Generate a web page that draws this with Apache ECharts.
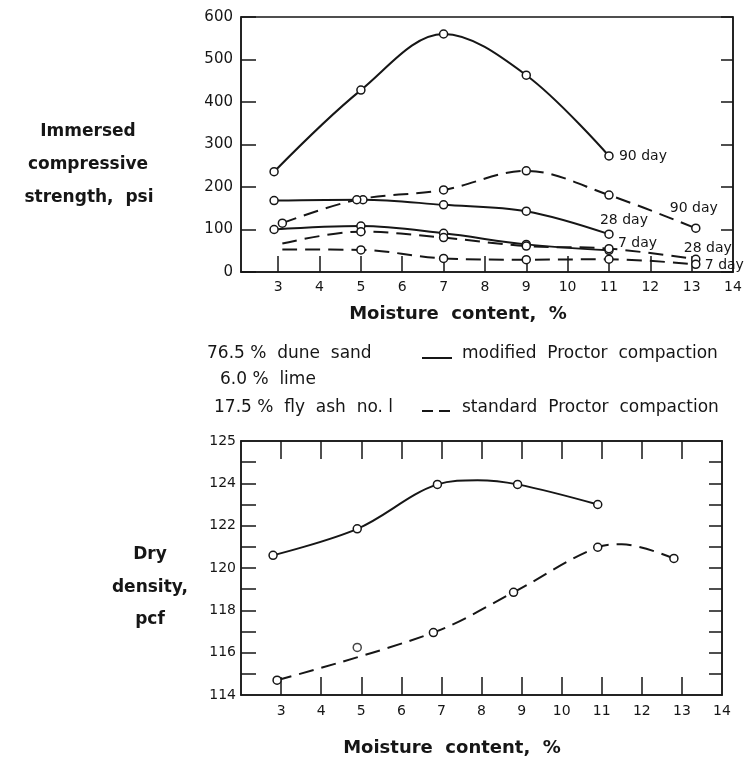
<!DOCTYPE html>
<html>
<head>
<meta charset="utf-8">
<script src="https://cdn.jsdelivr.net/npm/echarts@6/dist/echarts.min.js"></script>
<style>
  html, body { margin: 0; padding: 0; background: #fff; }
  #main { width: 751px; height: 761px; }
</style>
</head>
<body>
<div id="main"></div>
<script>
// compressive strength, psi  [moisture %, psi]
var mod90 = [[2.9, 236], [5, 428], [7, 560], [9, 463], [11, 273]];
var mod28 = [[2.9, 168], [5.05, 170], [7, 158], [9, 143], [11, 89]];
var mod7 = [[2.9, 100], [5, 108], [7, 91], [9, 65], [11, 51]];
var std90 = [[3.1, 115], [4.9, 170], [7, 193], [9, 238], [11, 181], [13.1, 103]];
var std28 = [[3.1, 67], [5, 95], [7, 81], [9, 61], [11, 55], [13.1, 30]];
var std7 = [[3.1, 53], [5, 52], [7, 32], [9, 29], [11, 30], [13.1, 18]];

// dry density, pcf
var densMod = [[2.8, 120.6], [4.9, 121.85], [6.9, 123.95], [8.9, 123.95], [10.9, 123.0]];
var densModCrest = [[7.9, 124.15]];          // top of the drawn curve, no marker
var densStd = [[2.9, 114.7], [6.8, 116.95], [8.8, 118.85], [10.9, 120.98], [12.8, 120.45]];
var densStdCrest = [[11.5, 121.12]];         // top of the drawn curve, no marker
var densStray = [[4.9, 116.25]];

// axis labels
var moistureTicks = [3, 4, 5, 6, 7, 8, 9, 10, 11, 12, 13];
var moistureLabels = [3, 4, 5, 6, 7, 8, 9, 10, 11, 12, 13, 14];
var densityLabelValues = [114, 116, 118, 120, 122, 124, 126];
var densityLabelText = ['114', '116', '118', '120', '122', '124', '125'];
var densityTicks = [115, 116, 117, 118, 119, 120, 121, 122, 123, 124, 125];

var FONT = 'DejaVu Sans';
var INK = '#161616';
var DASH = [15, 8];

var myChart = echarts.init(document.getElementById('main'), null, { renderer: 'canvas' });

// merge measured points with unmarked curve points, sorted by moisture
function withCrest(points, crest) {
    var all = points.map(function (p) { return { value: p }; })
        .concat(crest.map(function (p) { return { value: p, symbol: 'none' }; }));
    all.sort(function (a, b) { return a.value[0] - b.value[0]; });
    return all;
}

function strengthSeries(name, data, dashed, noFirstMarker, labelOffset) {
    var pts = data.map(function (p, i) {
        if (noFirstMarker && i === 0) {
            return { value: p, symbol: 'none' };
        }
        return p;
    });
    return {
        name: name,
        type: 'line',
        xAxisIndex: 0,
        yAxisIndex: 0,
        data: pts,
        smooth: 0.35,
        symbol: 'circle',
        symbolSize: 8,
        itemStyle: { color: '#fff', borderColor: INK, borderWidth: 1.5 },
        lineStyle: { color: INK, width: 2, type: dashed ? DASH : 'solid' },
        endLabel: {
            show: true,
            formatter: name,
            offset: labelOffset,
            color: INK,
            fontFamily: FONT,
            fontSize: 14
        },
        z: 3
    };
}

function titleText(str, x, y, size, bold) {
    return {
        type: 'text', x: x, y: y,
        style: {
            text: str, font: (bold ? 'bold ' : '') + size + 'px ' + FONT,
            fill: INK, align: bold ? 'center' : 'left', verticalAlign: 'middle'
        }
    };
}

var option = {
    animation: false,
    backgroundColor: '#fff',
    textStyle: { fontFamily: FONT, color: INK },
    grid: [
        { left: 241, top: 17, width: 492, height: 255, show: true, borderColor: INK, borderWidth: 1.5 },
        { left: 241, top: 441, width: 481, height: 254, show: true, borderColor: INK, borderWidth: 1.5 }
    ],
    xAxis: [
        {
            type: 'value', gridIndex: 0, min: 2.1, max: 14,
            axisLine: { show: true, lineStyle: { color: INK, width: 1.5 } },
            axisTick: { show: true, inside: true, length: 16, customValues: moistureTicks, lineStyle: { color: INK, width: 1.5 } },
            axisLabel: { customValues: moistureLabels, showMaxLabel: true, color: INK, fontSize: 14, margin: 8 },
            splitLine: { show: false }
        },
        {
            type: 'value', gridIndex: 1, min: 2, max: 14,
            axisLine: { show: true, lineStyle: { color: INK, width: 1.5 } },
            axisTick: { show: true, inside: true, length: 18, customValues: moistureTicks, lineStyle: { color: INK, width: 1.5 } },
            axisLabel: { customValues: moistureLabels, showMaxLabel: true, color: INK, fontSize: 14, margin: 9 },
            splitLine: { show: false }
        },
        {
            type: 'value', gridIndex: 1, min: 2, max: 14, position: 'top',
            axisLine: { show: true, lineStyle: { color: INK, width: 1.5 } },
            axisTick: { show: true, inside: true, length: 18, customValues: moistureTicks, lineStyle: { color: INK, width: 1.5 } },
            axisLabel: { show: false },
            splitLine: { show: false }
        }
    ],
    yAxis: [
        {
            type: 'value', gridIndex: 0, min: 0, max: 600, interval: 100,
            axisLine: { show: true, lineStyle: { color: INK, width: 1.5 } },
            axisTick: { show: true, inside: true, length: 15, lineStyle: { color: INK, width: 1.5 } },
            axisLabel: { color: INK, fontSize: 15, margin: 8 },
            splitLine: { show: false }
        },
        {
            type: 'value', gridIndex: 0, min: 0, max: 600, interval: 100, position: 'right',
            axisLine: { show: true, lineStyle: { color: INK, width: 1.5 } },
            axisTick: { show: true, inside: true, length: 12, lineStyle: { color: INK, width: 1.5 } },
            axisLabel: { show: false },
            splitLine: { show: false }
        },
        {
            type: 'value', gridIndex: 1, min: 114, max: 126,
            axisLine: { show: true, lineStyle: { color: INK, width: 1.5 } },
            axisTick: { show: true, inside: true, length: 15, customValues: densityTicks, lineStyle: { color: INK, width: 1.5 } },
            axisLabel: {
                customValues: densityLabelValues, showMaxLabel: true, showMinLabel: true,
                color: INK, fontSize: 14, margin: 5,
                formatter: function (v) {
                    var i = densityLabelValues.indexOf(v);
                    return i < 0 ? '' : densityLabelText[i];
                }
            },
            splitLine: { show: false }
        },
        {
            type: 'value', gridIndex: 1, min: 114, max: 126, position: 'right',
            axisLine: { show: true, lineStyle: { color: INK, width: 1.5 } },
            axisTick: { show: true, inside: true, length: 13, customValues: densityTicks, lineStyle: { color: INK, width: 1.5 } },
            axisLabel: { show: false },
            splitLine: { show: false }
        }
    ],
    series: [
        strengthSeries('90 day', mod90, false, false, [2, 0]),
        strengthSeries('28 day', mod28, false, false, [-17, -14]),
        strengthSeries('7 day', mod7, false, false, [1, -7]),
        strengthSeries('90 day', std90, true, false, [-34, -20]),
        strengthSeries('28 day', std28, true, true, [-20, -11]),
        strengthSeries('7 day', std7, true, true, [1, 1]),
        {
            type: 'line', xAxisIndex: 1, yAxisIndex: 2,
            data: withCrest(densMod, densModCrest), smooth: 0.35,
            symbol: 'circle', symbolSize: 8,
            itemStyle: { color: '#fff', borderColor: INK, borderWidth: 1.5 },
            lineStyle: { color: INK, width: 2 }
        },
        {
            type: 'line', xAxisIndex: 1, yAxisIndex: 2,
            data: withCrest(densStd, densStdCrest), smooth: 0.35,
            symbol: 'circle', symbolSize: 8,
            itemStyle: { color: '#fff', borderColor: INK, borderWidth: 1.5 },
            lineStyle: { color: INK, width: 2, type: DASH }
        },
        {
            type: 'scatter', xAxisIndex: 1, yAxisIndex: 2,
            data: densStray, symbol: 'circle', symbolSize: 8,
            itemStyle: { color: '#fff', borderColor: INK, borderWidth: 1.5 }
        }
    ],
    graphic: [
        // left titles
        titleText('Immersed', 88, 132, 17, true),
        titleText('compressive', 88, 165, 17, true),
        titleText('strength,  psi', 89, 198, 17, true),
        titleText('Dry', 150, 555, 17, true),
        titleText('density,', 150, 588, 17, true),
        titleText('pcf', 150, 620, 17, true),
        // x titles
        titleText('Moisture  content,  %', 458, 314, 18, true),
        titleText('Moisture  content,  %', 452, 748, 18, true),
        // mix and compaction key
        titleText('76.5 %  dune  sand', 207, 354, 17, false),
        titleText('6.0 %  lime', 220, 380, 17, false),
        titleText('17.5 %  fly  ash  no. l', 214, 408, 17, false),
        { type: 'line', shape: { x1: 422, y1: 358, x2: 452, y2: 358 }, style: { stroke: INK, lineWidth: 2 } },
        { type: 'line', shape: { x1: 422, y1: 411, x2: 452, y2: 411 }, style: { stroke: INK, lineWidth: 2, lineDash: [11, 6] } },
        titleText('modified  Proctor  compaction', 462, 354, 17, false),
        titleText('standard  Proctor  compaction', 462, 408, 17, false)
    ]
};

myChart.setOption(option);
</script>
</body>
</html>
